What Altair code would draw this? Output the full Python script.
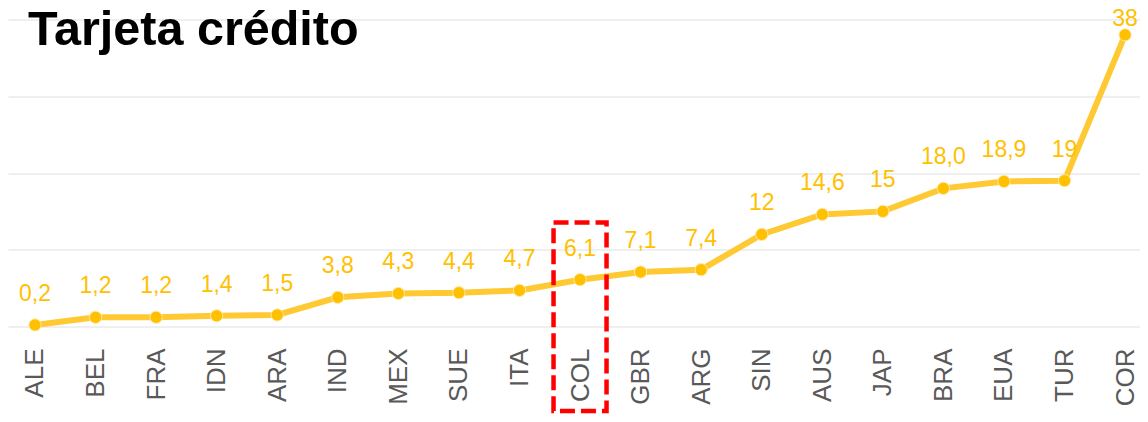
import altair as alt
import pandas as pd

TITLE = "Tarjeta crédito"
paises = ["ALE", "BEL", "FRA", "IDN", "ARA", "IND", "MEX", "SUE", "ITA", "COL",
          "GBR", "ARG", "SIN", "AUS", "JAP", "BRA", "EUA", "TUR", "COR"]
valores = [0.2, 1.2, 1.2, 1.4, 1.5, 3.8, 4.3, 4.4, 4.7, 6.1,
           7.1, 7.4, 12, 14.6, 15, 18.0, 18.9, 19, 38]
etiquetas = ["0,2", "1,2", "1,2", "1,4", "1,5", "3,8", "4,3", "4,4", "4,7", "6,1",
             "7,1", "7,4", "12", "14,6", "15", "18,0", "18,9", "19", "38"]
y_ticks = [0, 10, 20, 30, 40]

# highlighted country box (in data units)
destacado = ["COL"]
destacado_top = [13.55]
destacado_bottom = [-11.0]

df = pd.DataFrame({"pais": paises, "valor": valores, "etiqueta": etiquetas})
df_box = pd.DataFrame({"pais": destacado, "top": destacado_top, "bottom": destacado_bottom})
df_title = pd.DataFrame({"t": [TITLE]})

LINE_C = "#FFC933"
POINT_C = "#FFC000"

x_enc = alt.X("pais:N", sort=paises, title=None,
              scale=alt.Scale(type="point", padding=0.346, align=0.644),
              axis=alt.Axis(labelAngle=-90, labelFont="Liberation Sans", labelFontSize=26,
                            labelColor="#595959", labelPadding=21.5, ticks=False,
                            domain=False, grid=False, labelOverlap=False))
y_enc = alt.Y("valor:Q", title=None,
              scale=alt.Scale(domain=[0, 40], nice=False, zero=True),
              axis=alt.Axis(values=y_ticks, labels=False, ticks=False, domain=False,
                            grid=True, gridColor="#EFEFEF", gridWidth=2))

base = alt.Chart(df).encode(x=x_enc, y=y_enc)

line = base.mark_line(color=LINE_C, strokeWidth=6)
points = base.mark_point(filled=True, color=POINT_C, size=150, opacity=1,
                         stroke="#FFE9A8", strokeWidth=1)
labels = base.transform_filter("datum.pais != 'COR'").mark_text(
    font="Liberation Sans", fontSize=23, color=POINT_C, dy=-24, baseline="alphabetic"
).encode(text="etiqueta:N")
label_top = base.transform_filter("datum.pais == 'COR'").mark_text(
    font="Liberation Sans", fontSize=23, color=POINT_C, dy=-8.5, baseline="alphabetic"
).encode(text="etiqueta:N")

box = alt.Chart(df_box).mark_rect(
    width=53, fillOpacity=0, fill="white", stroke="#FF0000", strokeWidth=4.5,
    strokeDash=[15, 6]
).encode(
    x=alt.X("pais:N", sort=paises),
    y=alt.Y("top:Q"),
    y2=alt.Y2("bottom:Q"),
)

title = alt.Chart(df_title).mark_text(
    font="Liberation Sans", fontSize=48.5, fontWeight="bold", color="#000000",
    align="left", baseline="alphabetic"
).encode(x=alt.value(20), y=alt.value(25.5), text="t:N")

chart = alt.layer(line, points, box, labels, label_top, title).properties(
    width=1132, height=307,
    autosize=alt.AutoSizeParams(type="none"),
    padding={"left": 0, "top": 11.5, "right": 0, "bottom": 87.5},
).configure_view(stroke=None)

chart.save("out.html", embed_options={"renderer": "svg", "actions": False})
